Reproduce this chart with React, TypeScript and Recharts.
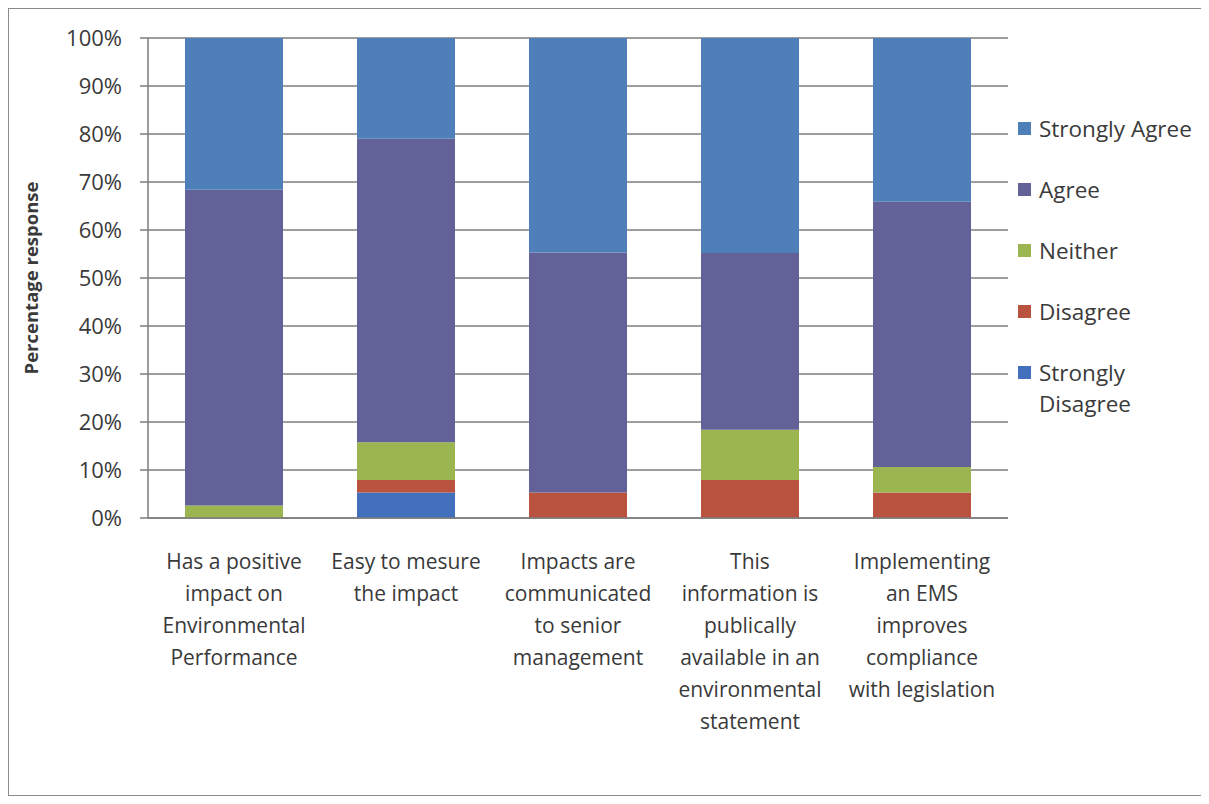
import { BarChart, Bar, XAxis, YAxis, CartesianGrid } from 'recharts'

const categories = [
  'Has a positive impact on Environmental Performance',
  'Easy to mesure the impact',
  'Impacts are communicated to senior management',
  'This information is publically available in an environmental statement',
  'Implementing an EMS improves compliance with legislation',
]

// how the category labels break under the bars
const categoryLines = [
  ['Has a positive', 'impact on', 'Environmental', 'Performance'],
  ['Easy to mesure', 'the impact'],
  ['Impacts are', 'communicated', 'to senior', 'management'],
  ['This', 'information is', 'publically', 'available in an', 'environmental', 'statement'],
  ['Implementing', 'an EMS', 'improves', 'compliance', 'with legislation'],
]

// percentage of responses
const stronglyDisagree = [0, 5.3, 0, 0, 0]
const disagree = [0, 2.6, 5.3, 7.9, 5.3]
const neither = [2.6, 7.9, 0, 10.5, 5.3]
const agree = [65.8, 63.2, 50.0, 36.8, 55.3]
const stronglyAgree = [31.6, 21.0, 44.7, 44.8, 34.1]

const yTicks = [0, 10, 20, 30, 40, 50, 60, 70, 80, 90, 100]

const series = [
  { key: 'stronglyDisagree', name: 'Strongly Disagree', color: '#4270bd' },
  { key: 'disagree', name: 'Disagree', color: '#b9533f' },
  { key: 'neither', name: 'Neither', color: '#9bb551' },
  { key: 'agree', name: 'Agree', color: '#626299' },
  { key: 'stronglyAgree', name: 'Strongly Agree', color: '#4f7fb9' },
]

const data = categories.map((name, i) => ({
  name,
  stronglyDisagree: stronglyDisagree[i],
  disagree: disagree[i],
  neither: neither[i],
  agree: agree[i],
  stronglyAgree: stronglyAgree[i],
}))

const FONT = '"Open Sans", sans-serif'
const TEXT = '#3a3a3a'
const GRID = '#7c7c7c'

const renderXTick = (props: any) => {
  const { x, y, payload } = props
  const lines = categoryLines[payload.index] || [String(payload.value)]
  return (
    <text x={x} y={y} textAnchor="middle" fill={TEXT} fontSize={21} fontFamily={FONT}>
      {lines.map((line, i) => (
        <tspan key={i} x={x} dy={i === 0 ? 51 : 32}>
          {line}
        </tspan>
      ))}
    </text>
  )
}

const renderYLabel = (props: any) => {
  const { viewBox } = props
  const cx = 21
  const cy = viewBox.y + viewBox.height / 2
  return (
    <text
      x={cx}
      y={cy}
      transform={`rotate(-90, ${cx}, ${cy})`}
      textAnchor="middle"
      dominantBaseline="central"
      fill={TEXT}
      fontSize={18.5}
      fontWeight="bold"
      fontFamily={FONT}
    >
      Percentage response
    </text>
  )
}

export default function App() {
  return (
    <div
      style={{
        position: 'relative',
        width: 1198,
        height: 786,
        border: '1px solid #8a8a8a',
        background: '#fff',
      }}
    >
      <BarChart
        width={1198}
        height={786}
        data={data}
        margin={{ top: 29, right: 199, left: 0, bottom: 0 }}
        barSize={98}
      >
        <CartesianGrid vertical={false} stroke={GRID} strokeWidth={1.5} />
        <XAxis
          dataKey="name"
          height={277}
          interval={0}
          tickLine={false}
          tickSize={0}
          tickMargin={0}
          axisLine={{ stroke: GRID, strokeWidth: 1.5 }}
          tick={renderXTick}
        />
        <YAxis
          width={139}
          domain={[0, 100]}
          ticks={yTicks}
          interval={0}
          tickFormatter={(v: number) => `${v}%`}
          tickSize={8}
          tickMargin={18}
          axisLine={{ stroke: GRID, strokeWidth: 1.5 }}
          tickLine={{ stroke: GRID, strokeWidth: 1.5 }}
          tick={{ fill: TEXT, fontSize: 22, fontFamily: FONT }}
          label={{ content: renderYLabel }}
        />
        {series.map(s => (
          <Bar
            key={s.key}
            dataKey={s.key}
            name={s.name}
            stackId="a"
            fill={s.color}
            isAnimationActive={false}
          />
        ))}
      </BarChart>

      {/* legend, top item first */}
      <div
        style={{
          position: 'absolute',
          left: 1009,
          top: 104,
          width: 189,
          fontFamily: FONT,
          fontSize: 22.5,
          color: TEXT,
        }}
      >
        {[...series].reverse().map(s => (
          <div key={s.key} style={{ display: 'flex', alignItems: 'flex-start', marginBottom: 30 }}>
            <span
              style={{
                display: 'inline-block',
                width: 13,
                height: 13,
                marginTop: 9,
                marginRight: 8,
                background: s.color,
                flexShrink: 0,
              }}
            />
            <span style={{ lineHeight: '31px', width: 166 }}>{s.name}</span>
          </div>
        ))}
      </div>
    </div>
  )
}
